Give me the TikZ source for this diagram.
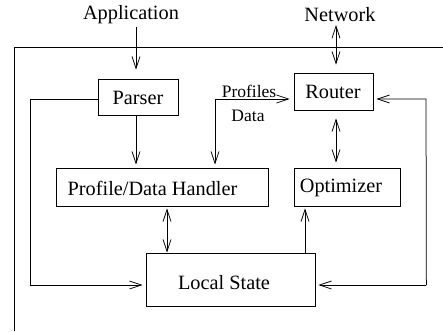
\documentclass[tikz,border=0pt]{standalone}
\usepackage{fontspec}
\setmainfont{Liberation Serif}
\usetikzlibrary{arrows.meta}
\begin{document}
\begin{tikzpicture}[x=1pt,y=-1pt,
  line width=0.75pt, draw=black,
  box/.style={draw, rectangle, inner sep=0pt},
  lbl/.style={font=\fontsize{20.3}{24}\selectfont, inner sep=0pt},
  small/.style={font=\fontsize{17.5}{21}\selectfont, inner sep=0pt},
  arr/.style={-{Straight Barb[length=12pt,width=8pt]}},
  darr/.style={{Straight Barb[length=12pt,width=8pt]}-{Straight Barb[length=12pt,width=8pt]}}]
\useasboundingbox (0,0) rectangle (443,331);
% frame
\draw (14,331) -- (14,47) -- (443,47);
% labels outside
\node[lbl] (app) at (131,15) {Application};
\node[lbl] (net) at (340,15) {Network};
% boxes
\node[box, minimum width=80pt, minimum height=36pt] (parser) at (138,97) {};
\node[lbl] (parsert) at (138,98) {Parser};
\node[box, minimum width=79pt, minimum height=37pt] (router) at (333.5,91.5) {};
\node[lbl] (routert) at (333,92) {Router};
\node[box, minimum width=212pt, minimum height=38pt] (pdh) at (162,187) {};
\node[lbl] (pdht) at (152.5,188) {Profile/Data Handler};
\node[box, minimum width=106pt, minimum height=38pt] (opt) at (347,187) {};
\node[lbl] (optt) at (341,188) {Optimizer};
\node[box, minimum width=169pt, minimum height=53pt] (ls) at (230.5,279.5) {};
\node[lbl] (lst) at (224,283) {Local State};
\node[small] (prof) at (249,91) {Profiles};
\node[small] (data) at (248,116) {Data};
% helper coordinates
\coordinate (appa) at (136,27);
\coordinate (neta) at (336,25);
\coordinate (pl) at (30,99);
\coordinate (pr) at (215,99);
\coordinate (rr) at (426,99);
\coordinate (lsy) at (0,285);
\coordinate (ro) at (336,0);
\coordinate (pl2) at (167,0);
\coordinate (lo) at (305,0);
% connectors
\draw[arr, shorten >=9pt] (appa) -- (parser.north -| appa);
\draw[darr, shorten >=8pt] (neta) -- (router.north -| neta);
\draw[arr, shorten >=3pt] (parser.south -| appa) -- (pdh.north -| appa);
\draw[arr, shorten >=3pt] (parser.west |- pl) -- (pl) |- (ls.west |- lsy);
\draw[darr, shorten >=3pt, shorten <=4pt] (router.west |- pr) -| (pdh.north -| pr);
\draw[arr, shorten >=3pt] (ls.east |- lsy) ++(111,0) coordinate (rb) -- (rr) -- (router.east |- rr);
\draw[arr, shorten >=3pt] (rb) -- (ls.east |- lsy);
\draw[darr, shorten <=8pt, shorten >=5pt] (router.south -| ro) -- (opt.north -| ro);
\draw[darr, shorten <=2pt] (pdh.south -| pl2) -- (ls.north -| pl2);
\draw[arr, shorten >=2pt] (ls.north -| lo) -- (opt.south -| lo);
\end{tikzpicture}
\end{document}
